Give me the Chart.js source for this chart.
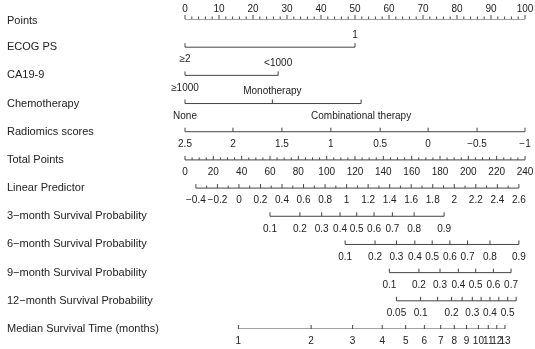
<!DOCTYPE html>
<html>
<head>
<meta charset="utf-8">
<title>Nomogram</title>
<script src="https://cdn.jsdelivr.net/npm/chart.js@4.4.0/dist/chart.umd.min.js"></script>
<style>
  html, body { margin: 0; padding: 0; background: #fff; }
  #wrap { width: 535px; height: 349px; }
</style>
</head>
<body>
<div id="wrap"><canvas id="nomogram"></canvas></div>
<script>
// Row titles, top to bottom
const rowLabels = [
    'Points',
    'ECOG PS',
    'CA19-9',
    'Chemotherapy',
    'Radiomics scores',
    'Total Points',
    'Linear Predictor',
    '3\u2212month Survival Probability',
    '6\u2212month Survival Probability',
    '9\u2212month Survival Probability',
    '12\u2212month Survival Probability',
    'Median Survival Time (months)'
];

// Points scale (0-100), minor ticks every 2
const pointsTicks = [0, 10, 20, 30, 40, 50, 60, 70, 80, 90, 100];
const pointsMinorStep = 2;

// Predictors: labels and their position on the points scale
const ecogLabels = ['\u22652', '1'];
const ecogPoints = [0, 50];

const ca199Labels = ['\u22651000', '<1000'];
const ca199Points = [0, 27.4];

const chemoLabels = ['None', 'Monotherapy', 'Combinational therapy'];
const chemoPoints = [0, 25.7, 51.8];

const radiomicsTicks = [2.5, 2, 1.5, 1, 0.5, 0, -0.5, -1];
const radiomicsPoints = [0, 14.1, 28.5, 42.9, 57.4, 71.5, 85.9, 100];

// Total points (0-240) spread over the 0-100 points width
const totalTicks = [0, 20, 40, 60, 80, 100, 120, 140, 160, 180, 200, 220, 240];
const totalMax = 240;
const totalMinorStep = 5;

// Linear predictor, end values and where they fall on the points scale
const lpTicks = [-0.4, -0.2, 0, 0.2, 0.4, 0.6, 0.8, 1, 1.2, 1.4, 1.6, 1.8, 2, 2.2, 2.4, 2.6];
const lpEnds = [-0.4, 2.6];
const lpEndPoints = [3.2, 98.2];

// Survival probabilities
const surv3Ticks = [0.1, 0.2, 0.3, 0.4, 0.5, 0.6, 0.7, 0.8, 0.9];
const surv3Points = [25.0, 33.8, 40.2, 45.6, 50.5, 55.6, 61.0, 67.4, 76.2];

const surv6Ticks = [0.1, 0.2, 0.3, 0.4, 0.5, 0.6, 0.7, 0.8, 0.9];
const surv6Points = [47.1, 55.9, 62.2, 67.6, 72.7, 77.9, 83.1, 89.7, 98.2];

const surv9Ticks = [0.1, 0.2, 0.3, 0.4, 0.5, 0.6, 0.7];
const surv9Points = [60.1, 68.8, 75.0, 80.4, 85.5, 90.7, 95.9];

const surv12Ticks = [0.05, 0.1, 0.15, 0.2, 0.25, 0.3, 0.35, 0.4, 0.45, 0.5, 0.55];
const surv12Points = [62.2, 69.3, 74.3, 78.4, 81.5, 84.5, 87.1, 89.7, 92.3, 94.9, 97.4];
const surv12Shown = [0.05, 0.1, 0.2, 0.3, 0.4, 0.5];

// Median survival time (months)
const medianTicks = [1, 2, 3, 4, 5, 6, 7, 8, 9, 10, 11, 12, 13];
const medianPoints = [15.7, 37.1, 49.3, 58.0, 64.9, 70.4, 75.2, 79.2, 82.8, 86.3, 89.2, 91.7, 94.1];

// Label side for the categorical rows (-1 above the line, 1 below)
const ecogSides = [1, -1];
const ca199Sides = [1, -1];
const chemoSides = [1, -1, 1];

const LINE_COLOR = '#444';
const TEXT_COLOR = '#222';
const FONT = '"Liberation Sans", Arial, sans-serif';

const fmt = v => String(v).replace('-', '\u2212');

/**
 * Build one row of ticks
 * @param {Array} labels - text of each tick ('' for unlabeled)
 * @param {Array} positions - position of each tick on the points scale
 * @param {Array|number} sides - label side(s)
 * @returns {Array} ticks
 */
function makeTicks(labels, positions, sides) {
    return positions.map((pos, i) => ({
        pos: pos,
        text: labels[i],
        major: true,
        side: Array.isArray(sides) ? sides[i] : sides
    }));
}

// Minor ticks between labeled values of a linear axis
function minorTicks(from, to, step, isMajor, toPoints) {
    const out = [];
    const n = Math.round((to - from) / step);
    for (let k = 0; k <= n; k++) {
        const v = from + k * step;
        if (!isMajor(v)) out.push({ pos: toPoints(v), text: '', major: false, side: 1 });
    }
    return out;
}

const lpToPoints = v => lpEndPoints[0] +
    (v - lpEnds[0]) / (lpEnds[1] - lpEnds[0]) * (lpEndPoints[1] - lpEndPoints[0]);
const totalToPoints = v => v / totalMax * 100;
const near = (v, step) => Math.abs(v / step - Math.round(v / step)) < 1e-6;

const rows = [
    makeTicks(pointsTicks.map(fmt), pointsTicks, -1)
        .concat(minorTicks(0, 100, pointsMinorStep, v => near(v, 10), v => v)),
    makeTicks(ecogLabels, ecogPoints, ecogSides),
    makeTicks(ca199Labels, ca199Points, ca199Sides),
    makeTicks(chemoLabels, chemoPoints, chemoSides),
    makeTicks(radiomicsTicks.map(fmt), radiomicsPoints, 1),
    makeTicks(totalTicks.map(fmt), totalTicks.map(totalToPoints), 1)
        .concat(minorTicks(0, totalMax, totalMinorStep, v => near(v, 20), totalToPoints)),
    makeTicks(lpTicks.map(fmt), lpTicks.map(lpToPoints), 1)
        .concat(minorTicks(-0.4, 2.6, 0.1, v => near(v, 0.2), lpToPoints)),
    makeTicks(surv3Ticks.map(fmt), surv3Points, 1),
    makeTicks(surv6Ticks.map(fmt), surv6Points, 1),
    makeTicks(surv9Ticks.map(fmt), surv9Points, 1),
    makeTicks(surv12Ticks.map(v => surv12Shown.includes(v) ? fmt(v) : ''), surv12Points, 1),
    makeTicks(medianTicks.map(fmt), medianPoints, 1)
];

// One line per row, from the first to the last tick
const datasets = rows.map((ticks, r) => {
    const ps = ticks.map(t => t.pos);
    return {
        label: rowLabels[r],
        data: [{ x: Math.min(...ps), y: r }, { x: Math.max(...ps), y: r }],
        showLine: true,
        pointRadius: 0,
        borderColor: LINE_COLOR,
        borderWidth: 1
    };
});

// Ticks, tick labels and row titles
const nomogramPlugin = {
    id: 'nomogram',
    afterDatasetsDraw(chart) {
        const { ctx, scales: { x, y } } = chart;
        ctx.save();
        ctx.strokeStyle = LINE_COLOR;
        ctx.lineWidth = 1;
        ctx.fillStyle = TEXT_COLOR;
        ctx.textBaseline = 'middle';

        rows.forEach((ticks, r) => {
            const py = y.getPixelForValue(r);
            ticks.forEach(t => {
                const px = x.getPixelForValue(t.pos);
                const len = t.major ? 4 : 2.5;
                ctx.beginPath();
                ctx.moveTo(px, py);
                ctx.lineTo(px, py - len);
                ctx.stroke();
                if (t.text) {
                    ctx.font = '10px ' + FONT;
                    ctx.textAlign = 'center';
                    const gap = t.side < 0 ? (r === 0 ? -10 : -12) : 12.5;
                    ctx.fillText(t.text, px, py + gap);
                }
            });
            ctx.font = '11px ' + FONT;
            ctx.textAlign = 'left';
            ctx.fillText(rowLabels[r], 7, py + (r === 0 ? 2 : 0));
        });
        ctx.restore();
    }
};

new Chart(document.getElementById('nomogram'), {
    type: 'scatter',
    data: { datasets: datasets },
    options: {
        responsive: true,
        maintainAspectRatio: false,
        animation: false,
        layout: { padding: { left: 185, right: 10, top: 19, bottom: 20 } },
        scales: {
            x: { type: 'linear', min: 0, max: 100, display: false },
            y: { type: 'linear', min: 0, max: 11, reverse: true, display: false }
        },
        plugins: {
            legend: { display: false },
            tooltip: { enabled: false }
        }
    },
    plugins: [nomogramPlugin]
});
</script>
</body>
</html>
